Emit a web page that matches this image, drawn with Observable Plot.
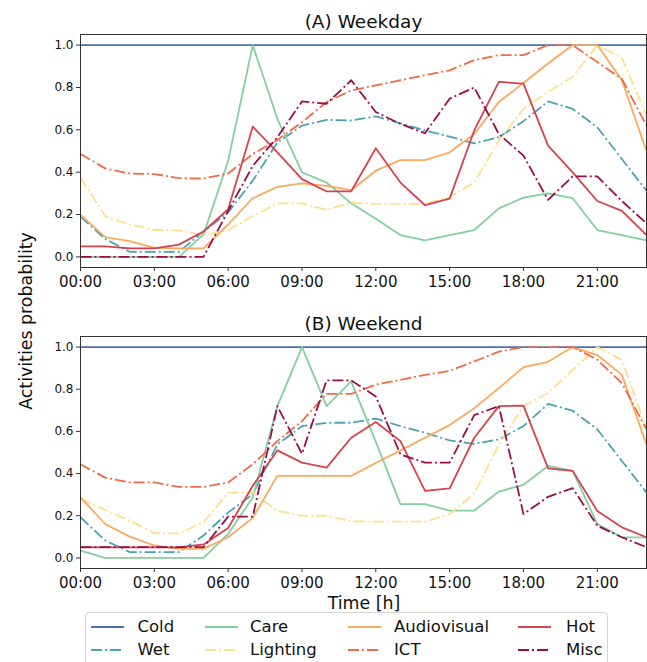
<!DOCTYPE html>
<html>
<head>
<meta charset="utf-8">
<script src="https://cdn.jsdelivr.net/npm/d3@7"></script>
<script src="https://cdn.jsdelivr.net/npm/@observablehq/plot@0.6"></script>
<style>
  html, body { margin: 0; padding: 0; background: white; }
  #wrap { position: relative; width: 647px; height: 662px; overflow: hidden; font-family: "DejaVu Sans", sans-serif; color: #222; }
  .leg-text { position: absolute; font-size: 16.5px; line-height: 16.5px; white-space: nowrap; color: #111; }
</style>
</head>
<body>
<div id="wrap"></div>
<script>
const hours = d3.range(24);
const xTicks = [0, 3, 6, 9, 12, 15, 18, 21];
const yTicks = [0, 0.2, 0.4, 0.6, 0.8, 1.0];
const seriesNames = ["Cold", "Wet", "Care", "Lighting", "Audiovisual", "ICT", "Hot", "Misc"];
const seriesColors = ["#4a6db5", "#4aa3b3", "#84cf9e", "#fedf8d", "#fda95c", "#f36a45", "#d7424f", "#9b0d4a"];
const seriesDash = ["solid", "dashdot", "solid", "dashdot", "solid", "dashdot", "solid", "dashdot"];

// (A) Weekday
const wdCold = [1,1,1,1,1,1,1,1,1,1,1,1,1,1,1,1,1,1,1,1,1,1,1,1];
const wdWet = [0.19,0.085,0.024,0.024,0.024,0.12,0.21,0.36,0.54,0.62,0.647,0.644,0.663,0.631,0.597,0.568,0.536,0.565,0.641,0.734,0.699,0.612,0.462,0.312];
const wdCare = [0,0,0,0,0,0.106,0.454,1.0,0.652,0.399,0.351,0.253,0.18,0.103,0.078,0.103,0.127,0.229,0.28,0.30,0.277,0.127,0.103,0.078];
const wdLighting = [0.375,0.193,0.153,0.127,0.125,0.103,0.127,0.193,0.253,0.253,0.222,0.256,0.25,0.25,0.25,0.283,0.351,0.549,0.699,0.778,0.85,1.0,0.94,0.668];
const wdAudiovisual = [0.20,0.093,0.074,0.043,0.04,0.04,0.153,0.277,0.331,0.347,0.335,0.315,0.407,0.457,0.457,0.494,0.58,0.731,0.821,0.913,1.0,1.0,0.834,0.50];
const wdICT = [0.486,0.418,0.394,0.391,0.372,0.37,0.394,0.486,0.552,0.636,0.731,0.786,0.81,0.834,0.858,0.881,0.929,0.953,0.953,1.0,1.0,0.92,0.84,0.62];
const wdHot = [0.05,0.05,0.04,0.04,0.058,0.12,0.225,0.615,0.494,0.367,0.309,0.31,0.513,0.351,0.244,0.275,0.597,0.826,0.818,0.525,0.399,0.264,0.217,0.103];
const wdMisc = [0,0,0,0,0,0,0.217,0.43,0.565,0.734,0.723,0.834,0.684,0.628,0.584,0.747,0.80,0.58,0.478,0.269,0.38,0.38,0.264,0.158];

// (B) Weekend
const weCold = [1,1,1,1,1,1,1,1,1,1,1,1,1,1,1,1,1,1,1,1,1,1,1,1];
const weWet = [0.193,0.083,0.028,0.028,0.028,0.106,0.216,0.302,0.538,0.625,0.641,0.641,0.661,0.625,0.594,0.557,0.541,0.562,0.625,0.73,0.698,0.61,0.46,0.31];
const weCare = [0.035,0,0,0,0,0,0.114,0.287,0.72,1.0,0.72,0.837,0.55,0.255,0.255,0.224,0.224,0.315,0.347,0.436,0.413,0.161,0.098,0.098];
const weLighting = [0.279,0.227,0.177,0.117,0.117,0.169,0.31,0.31,0.224,0.2,0.2,0.174,0.172,0.172,0.172,0.208,0.306,0.538,0.72,0.782,0.892,1.0,0.94,0.61];
const weAudiovisual = [0.287,0.161,0.101,0.059,0.043,0.043,0.098,0.19,0.389,0.389,0.389,0.389,0.45,0.51,0.57,0.63,0.71,0.805,0.905,0.93,1.0,0.962,0.868,0.538];
const weICT = [0.444,0.381,0.358,0.358,0.337,0.337,0.358,0.444,0.554,0.649,0.778,0.778,0.822,0.844,0.868,0.887,0.932,0.978,1.0,1.0,1.0,0.94,0.829,0.61];
const weHot = [0.05,0.05,0.05,0.05,0.05,0.064,0.142,0.342,0.51,0.452,0.428,0.57,0.645,0.554,0.318,0.33,0.57,0.72,0.722,0.425,0.413,0.223,0.145,0.098];
const weMisc = [0.051,0.051,0.051,0.051,0.051,0.051,0.196,0.196,0.72,0.494,0.842,0.842,0.766,0.491,0.452,0.452,0.677,0.72,0.208,0.29,0.331,0.153,0.098,0.051];

const weekday = [wdCold, wdWet, wdCare, wdLighting, wdAudiovisual, wdICT, wdHot, wdMisc];
const weekend = [weCold, weWet, weCare, weLighting, weAudiovisual, weICT, weHot, weMisc];

const DASHDOT = "11,3,2,3";
const xFmt = d => String(d).padStart(2, "0") + ":00";
const yFmt = d3.format(".1f");

function panel(title, values, opts) {
  const lines = values.map((vals, i) => {
    const rows = hours.map((h, j) => ({hour: h, value: vals[j]}));
    return Plot.line(rows, {
      x: "hour", y: "value",
      stroke: seriesColors[i],
      strokeWidth: 1.8,
      strokeDasharray: seriesDash[i] === "dashdot" ? DASHDOT : null,
      strokeLinejoin: "round",
      strokeLinecap: "butt"
    });
  });
  return Plot.plot({
    width: 647,
    height: opts.height,
    marginLeft: 80,
    marginRight: 1,
    marginTop: opts.marginTop,
    marginBottom: opts.marginBottom,
    x: {domain: [0, 23]},
    y: {domain: [-0.05, 1.05]},
    style: {fontFamily: "DejaVu Sans", fontSize: "12px", color: "#222", background: "white", overflow: "visible"},
    marks: [
      Plot.axisX({ticks: xTicks, tickFormat: xFmt, tickSize: 4, tickPadding: 5, fontSize: 15, label: null, stroke: "#333", fill: "#111"}),
      Plot.axisY({ticks: yTicks, tickFormat: yFmt, tickSize: 4, tickPadding: 3, fontSize: 12, label: null, stroke: "#333", fill: "#111"}),
      ...lines,
      Plot.frame({stroke: "#333", strokeWidth: 1}),
      Plot.text([title], {frameAnchor: "top", dy: -6.7, lineAnchor: "bottom", fontSize: 18.5, fill: "#111"})
    ]
  });
}

const wrap = document.getElementById("wrap");

const pA = panel("(A) Weekday", weekday, {height: 300, marginTop: 34, marginBottom: 33});
pA.style.position = "absolute"; pA.style.left = "0px"; pA.style.top = "0px";
wrap.appendChild(pA);

const pB = panel("(B) Weekend", weekend, {height: 298, marginTop: 36, marginBottom: 30});
pB.style.position = "absolute"; pB.style.left = "0px"; pB.style.top = "300px";
wrap.appendChild(pB);

// y label
const yl = document.createElement("div");
yl.textContent = "Activities probability";
yl.style.cssText = "position:absolute;left:26px;top:321px;font-size:17.4px;white-space:nowrap;transform:translate(-50%,-50%) rotate(-90deg);color:#111;";
wrap.appendChild(yl);

// x label
const xl = document.createElement("div");
xl.textContent = "Time [h]";
xl.style.cssText = "position:absolute;left:364px;top:603px;font-size:17.4px;white-space:nowrap;transform:translate(-50%,-50%);color:#111;";
wrap.appendChild(xl);

// legend
const box = document.createElement("div");
box.style.cssText = "position:absolute;left:85px;top:612px;width:521px;height:60px;border:1px solid #d4d4d4;border-radius:4px;background:white;";
wrap.appendChild(box);

const colHandleX = [91, 204.5, 347.5, 518];
const colTextX = [137.5, 250, 394, 566];
const rowY = [627, 649.5];
seriesNames.forEach((name, i) => {
  const col = Math.floor(i / 2), row = i % 2;
  const svg = d3.create("svg").attr("width", 34).attr("height", 6)
    .style("position", "absolute").style("left", colHandleX[col] + "px").style("top", (rowY[row] - 3) + "px");
  svg.append("line").attr("x1", 0).attr("x2", 33).attr("y1", 3).attr("y2", 3)
    .attr("stroke", seriesColors[i]).attr("stroke-width", 1.8)
    .attr("stroke-dasharray", seriesDash[i] === "dashdot" ? DASHDOT : null);
  wrap.appendChild(svg.node());
  const t = document.createElement("div");
  t.className = "leg-text";
  t.textContent = name;
  t.style.left = colTextX[col] + "px";
  t.style.top = (rowY[row] - 7.9) + "px";
  wrap.appendChild(t);
});
</script>
</body>
</html>
